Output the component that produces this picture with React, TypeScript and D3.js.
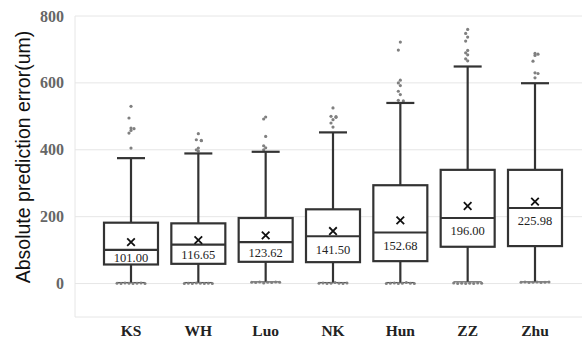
import React, { useEffect, useRef } from 'react';
import * as d3 from 'd3';

// Box statistics per method (um)
const categories = ['KS', 'WH', 'Luo', 'NK', 'Hun', 'ZZ', 'Zhu'];
const q1 = [57, 59, 65, 64, 67, 110, 112];
const medians = [101.0, 116.65, 123.62, 141.5, 152.68, 196.0, 225.98];
const q3 = [182, 180, 196, 222, 294, 340, 340];
const means = [124, 130, 144, 157, 189, 232, 245];
const whiskerLow = [3, 3, 5, 3, 3, 5, 5];
const whiskerHigh = [375, 389, 394, 452, 540, 649, 599];
const outliers = [
  [530, 495, 465, 463, 458, 450, 405],
  [448, 430, 428, 427, 405, 400, 396],
  [498, 492, 440, 412, 406, 400],
  [525, 500, 499, 497, 490, 480, 468],
  [722, 698, 608, 600, 592, 575, 565, 548, 546],
  [760, 748, 737, 725, 697, 690, 684, 672, 666],
  [688, 686, 682, 665, 630, 628, 615],
];
// points piled up close to zero under each lower whisker
const lowPoints = [
  [1, 0, 2, 1, 0, 1, 2, 0],
  [0, 1, 0, 2, 1, 0, 1, 0],
  [4, 3, 5, 2, 4, 3, 5, 4],
  [1, 2, 0, 1, 3, 1, 0, 2],
  [0, 1, 2, 0, 1, 3, 1, 0],
  [2, 0, 1, 0, 1, 0, 2, 1],
  [4, 5, 3, 4, 5, 3, 4, 5],
];
const yTicks = [0, 200, 400, 600, 800];

export default function App() {
  const svgRef = useRef<SVGSVGElement>(null);

  useEffect(() => {
    const width = 582;
    const height = 340;
    const svg = d3.select(svgRef.current).attr('width', width).attr('height', height);
    svg.selectAll('*').remove();

    const left = 75;
    const y = d3.scaleLinear().domain([-100, 800]).range([317, 16]);
    const x = d3.scalePoint<string>().domain(categories).range([131, 535]);
    const boxW = 54;
    const capW = 28;
    const dark = '#333';
    const serif = '"Liberation Serif", "Times New Roman", serif';

    // grid
    svg.append('g').selectAll('line').data(yTicks).join('line')
      .attr('x1', left).attr('x2', width).attr('y1', d => y(d)).attr('y2', d => y(d))
      .attr('stroke', '#e6e6e6').attr('stroke-width', 1);
    svg.append('line').attr('x1', left).attr('x2', width).attr('y1', y(-100)).attr('y2', y(-100))
      .attr('stroke', '#e6e6e6');
    svg.append('line').attr('x1', left).attr('x2', left).attr('y1', y(800)).attr('y2', y(-100))
      .attr('stroke', '#e6e6e6');

    // y ticks
    svg.append('g').selectAll('text').data(yTicks).join('text')
      .attr('x', 64).attr('y', d => y(d)).attr('dy', '0.35em').attr('text-anchor', 'end')
      .attr('font-family', serif).attr('font-weight', 'bold')
      .attr('font-size', 16).attr('fill', '#666').text(d => d);

    // y title
    svg.append('text')
      .attr('transform', `translate(23,157) rotate(-90)`)
      .attr('text-anchor', 'middle').attr('dy', '0.35em')
      .attr('font-family', '"Liberation Sans", Arial, sans-serif').attr('font-size', 19.5)
      .attr('fill', '#111').text('Absolute prediction error(um)');

    // x labels
    svg.append('g').selectAll('text').data(categories).join('text')
      .attr('x', d => x(d)!).attr('y', 331).attr('dy', '0.35em').attr('text-anchor', 'middle')
      .attr('font-family', serif).attr('font-weight', 'bold')
      .attr('font-size', 15.5).attr('fill', '#222').text(d => d);

    categories.forEach((c, i) => {
      const cx = x(c)!;
      const g = svg.append('g');

      // outliers
      outliers[i].forEach((v, j) => {
        const dup = j > 0 && Math.abs(outliers[i][j - 1] - v) < 4;
        g.append('circle').attr('cx', cx + (dup ? 3 : j % 2 === 0 ? 0 : -2)).attr('cy', y(v))
          .attr('r', 1.6).attr('fill', '#808080');
      });

      // whiskers
      g.append('line').attr('x1', cx).attr('x2', cx).attr('y1', y(q3[i])).attr('y2', y(whiskerHigh[i]))
        .attr('stroke', dark).attr('stroke-width', 2.2);
      g.append('line').attr('x1', cx).attr('x2', cx).attr('y1', y(q1[i])).attr('y2', y(whiskerLow[i]))
        .attr('stroke', dark).attr('stroke-width', 2.2);
      g.append('line').attr('x1', cx - capW / 2).attr('x2', cx + capW / 2)
        .attr('y1', y(whiskerHigh[i])).attr('y2', y(whiskerHigh[i]))
        .attr('stroke', dark).attr('stroke-width', 2.2);
      g.append('line').attr('x1', cx - capW / 2).attr('x2', cx + capW / 2)
        .attr('y1', y(whiskerLow[i])).attr('y2', y(whiskerLow[i]))
        .attr('stroke', '#555').attr('stroke-width', 1.2);
      const n = lowPoints[i].length;
      lowPoints[i].forEach((v, j) => {
        g.append('circle').attr('cx', cx - capW / 2 + (capW * j) / (n - 1)).attr('cy', y(v))
          .attr('r', 1.5).attr('fill', '#808080');
      });

      // box
      g.append('rect').attr('x', cx - boxW / 2).attr('width', boxW)
        .attr('y', y(q3[i])).attr('height', y(q1[i]) - y(q3[i]))
        .attr('fill', 'white').attr('stroke', dark).attr('stroke-width', 2.2);
      g.append('line').attr('x1', cx - boxW / 2).attr('x2', cx + boxW / 2)
        .attr('y1', y(medians[i])).attr('y2', y(medians[i]))
        .attr('stroke', dark).attr('stroke-width', 2.2);

      // mean marker
      const my = y(means[i]);
      const s = 3.8;
      g.append('path').attr('d', `M${cx - s},${my - s}L${cx + s},${my + s}M${cx - s},${my + s}L${cx + s},${my - s}`)
        .attr('stroke', '#111').attr('stroke-width', 1.8);

      // median label
      const ym = y(medians[i]);
      const ly = Math.min(ym + 13, (ym + y(q1[i])) / 2 + 0.8);
      g.append('text').attr('x', cx).attr('y', ly).attr('dy', '0.35em')
        .attr('text-anchor', 'middle').attr('font-family', serif)
        .attr('font-size', 12.5).attr('fill', '#222').text(d3.format('.2f')(medians[i]));
    });
  }, []);

  return (
    <div style={{ position: 'absolute', left: 0, top: 0 }}>
      <svg ref={svgRef} style={{ display: 'block', background: 'white' }} />
    </div>
  );
}
